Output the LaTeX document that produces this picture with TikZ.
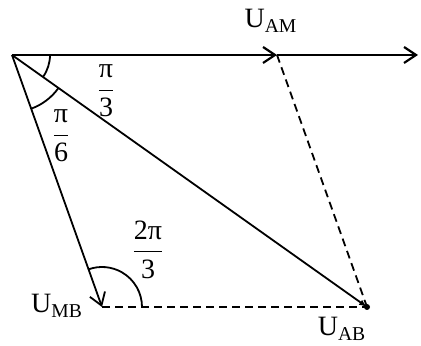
\documentclass[tikz,border=0pt]{standalone}
\usepackage{fontspec}
\setmainfont{Liberation Serif}
\usetikzlibrary{calc, arrows.meta}
\tikzset{
  vec/.style={line width=0.9pt, -{Straight Barb[length=6pt,width=8pt]}},
  vecab/.style={line width=0.9pt, -{Latex[length=4pt,width=3pt]}},
  aux/.style={line width=0.9pt, dash pattern=on 4pt off 2.5pt},
  angarc/.style={line width=0.9pt},
  lbl/.style={font=\fontsize{14}{16}\selectfont, inner sep=0pt},
}
\newcommand{\angfrac}[2]{$\displaystyle\frac{\hbox{#1}}{\hbox{#2}}$}

\begin{document}
\begin{tikzpicture}[x=0.5pt, y=0.5pt]
  \useasboundingbox (0,0) rectangle (421,346);
  % phasor points
  \coordinate (O)  at (12,291);
  \coordinate (AM) at (277,291);
  \coordinate (X)  at (418,291);
  \coordinate (AB) at (367,39);
  \coordinate (MB) at (102,39);

  % vectors
  \draw[vec, line width=1.1pt] (O) -- (AM);
  \draw[vec, line width=1.1pt] (AM) -- (X);
  \draw[vec] (O) -- (MB);
  \draw[vecab] (O) -- (AB);
  \draw[aux] (AM) -- (AB);
  \draw[aux] (MB) -- (AB);
  \fill (AB) circle[radius=1.5pt];

  % angles
  \draw[angarc] ($(O)+(0:19pt)$) arc[start angle=0, end angle=-35.4, radius=19pt];
  \draw[angarc] ($(O)+(-35.4:28.5pt)$) arc[start angle=-35.4, end angle=-70.3, radius=28.5pt];
  \draw[angarc] ($(MB)+(0:20pt)$) arc[start angle=0, end angle=109.7, radius=20pt];

  % labels
  \node[lbl] (uam) at (271,325) {U\textsubscript{AM}};
  \node[lbl] (umb) at (57,40)   {U\textsubscript{MB}};
  \node[lbl] (uab) at (342,17)  {U\textsubscript{AB}};
  \node[lbl] (a3)  at (106,255) {\angfrac{π}{3}};
  \node[lbl] (a6)  at (61,210)  {\angfrac{π}{6}};
  \node[lbl] (a23) at (148,96)  {\angfrac{2π}{3}};
\end{tikzpicture}
\end{document}
